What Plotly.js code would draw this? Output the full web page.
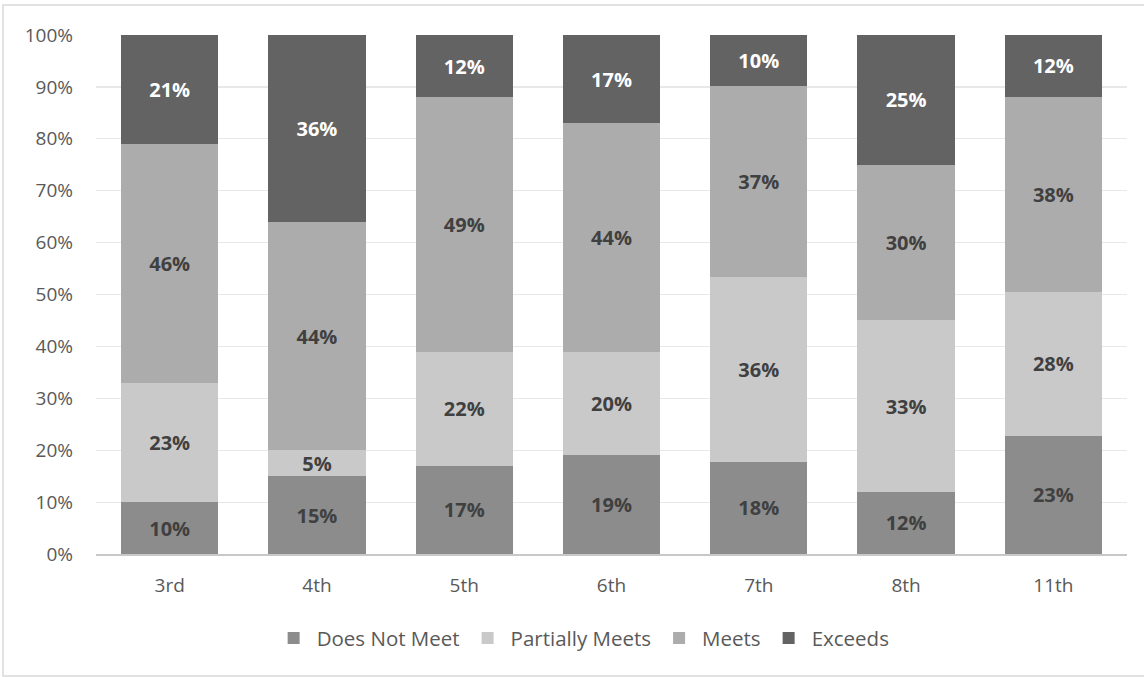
<!DOCTYPE html>
<html>
<head>
<meta charset="utf-8">
<script src="https://cdn.plot.ly/plotly-3.0.1.min.js"></script>
<style>
  html, body { margin: 0; padding: 0; background: #ffffff; }
  #chart { width: 1144px; height: 677px; }
</style>
</head>
<body>
<div id="chart"></div>
<script>
// Grade levels on the x axis
const grades = ['3rd', '4th', '5th', '6th', '7th', '8th', '11th'];

// Share of students at each performance level (percent)
const doesNotMeet    = [10, 15, 17, 19, 18, 12, 23];
const partiallyMeets = [23, 5, 22, 20, 36, 33, 28];
const meets          = [46, 44, 49, 44, 37, 30, 38];
const exceeds        = [21, 36, 12, 17, 10, 25, 12];

const yTicks = [0, 10, 20, 30, 40, 50, 60, 70, 80, 90, 100];

const FONT = 'Open Sans, Liberation Sans, sans-serif';

function series(name, values, color, textColor) {
  return {
    type: 'bar',
    name: name,
    x: grades,
    y: values,
    text: values.map(v => v + '%'),
    textposition: 'inside',
    insidetextanchor: 'middle',
    textangle: 0,
    textfont: { family: FONT, size: 20, color: textColor, weight: 'bold' },
    marker: { color: color, line: { width: 0 } },
    hoverinfo: 'x+y+name'
  };
}

const data = [
  series('Does Not Meet', doesNotMeet, '#8c8c8c', '#404040'),
  series('Partially Meets', partiallyMeets, '#c9c9c9', '#404040'),
  series('Meets', meets, '#acacac', '#404040'),
  series('Exceeds', exceeds, '#636363', '#ffffff')
];

// Plot area geometry in pixels, used to place the outer frame
const W = 1144, H = 677;
const mL = 96, mR = 17, mT = 35, mB = 123;
const pw = W - mL - mR, ph = H - mT - mB;
const fx = px => (px - mL) / pw;
const fy = py => (H - mB - py) / ph;

const layout = {
  width: W,
  height: H,
  margin: { l: mL, r: mR, t: mT, b: mB, pad: 0 },
  paper_bgcolor: '#ffffff',
  plot_bgcolor: '#ffffff',
  barmode: 'stack',
  barnorm: 'percent',
  bargap: 0.34,
  font: { family: FONT, color: '#595959', size: 19 },
  uniformtext: { mode: 'show', minsize: 20 },
  showlegend: true,
  legend: {
    orientation: 'h',
    x: 0.472,
    xanchor: 'center',
    y: -0.162,
    yanchor: 'middle',
    font: { family: FONT, size: 20.5, color: '#595959' },
    traceorder: 'normal',
    itemwidth: 36,
    tracegroupgap: 0
  },
  xaxis: {
    type: 'category',
    showgrid: false,
    showline: true,
    linecolor: '#c8c8c8',
    linewidth: 1.5,
    ticks: '',
    tickfont: { family: FONT, size: 19, color: '#595959' },
    ticklabelstandoff: 14,
    fixedrange: true
  },
  yaxis: {
    range: [0, 100],
    tickvals: yTicks,
    ticktext: yTicks.map(v => v + '%'),
    showgrid: true,
    gridcolor: '#e8e8e8',
    gridwidth: 1.2,
    zeroline: false,
    showline: false,
    ticks: '',
    tickfont: { family: FONT, size: 19, color: '#595959' },
    ticklabelstandoff: 22,
    fixedrange: true
  },
  shapes: [{
    type: 'rect',
    xref: 'paper', yref: 'paper',
    x0: fx(3), x1: fx(1150), y0: fy(676), y1: fy(5),
    line: { color: '#d9d9d9', width: 1.5 },
    fillcolor: 'rgba(0,0,0,0)',
    layer: 'below'
  }]
};

Plotly.newPlot('chart', data, layout, { displayModeBar: false, staticPlot: true });
</script>
</body>
</html>
